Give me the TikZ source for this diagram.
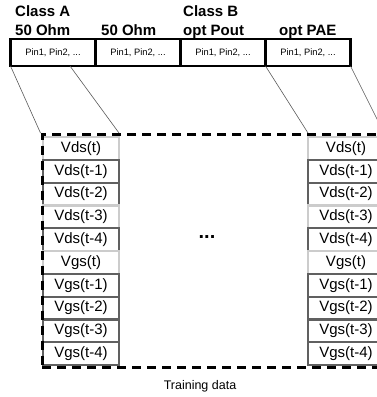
\documentclass[tikz,border=0pt]{standalone}
\usepackage{fontspec}
\setmainfont{Liberation Sans}
\usetikzlibrary{fit}

\begin{document}
\begin{tikzpicture}[x=1pt,y=1pt,yscale=-1,xscale=1,
    pinbox/.style={draw=black,line width=2.5pt,fill=white,minimum width=85pt,minimum height=27pt,inner sep=0pt,outer sep=0pt,font=\fontsize{9.3}{10}\selectfont},
    headtext/.style={anchor=base west,inner sep=0pt,font=\fontsize{15}{18}\selectfont\bfseries},
    cell/.style={draw=gray!80!black,line width=2.2pt,fill=white,minimum width=76pt,minimum height=22.8pt,inner sep=0pt,outer sep=0pt,font=\fontsize{15}{18}\selectfont},
    lt/.style={draw=gray!40},
    dk/.style={draw=gray!75!black},
    link/.style={draw=gray!70!black,line width=0.6pt},
    frame/.style={draw=black,line width=3pt,dash pattern=on 9pt off 6pt,inner xsep=1pt,inner ysep=2.5pt}]
\useasboundingbox (0,0) rectangle (377,397);
%Text Nodes: headers
\node [headtext] (classA) at (15,16) {Class A};
\node [headtext] (ohmA) at (15,35) {50 Ohm};
\node [headtext] (ohmB) at (101,35) {50 Ohm};
\node [headtext] (classB) at (183,16) {Class B};
\node [headtext] (pout) at (183,35) {opt Pout};
\node [headtext] (pae) at (279,35) {opt PAE};
%Shape: Rectangles (pin lists)
\node [pinbox] (pinA) at (53,52.5) {Pin1, Pin2, ...};
\node [pinbox] (pinB) at (138,52.5) {Pin1, Pin2, ...};
\node [pinbox] (pinC) at (223,52.5) {Pin1, Pin2, ...};
\node [pinbox] (pinD) at (308,52.5) {Pin1, Pin2, ...};
%Shape: Rectangles (training columns)
\foreach \lbl/\sty [count=\i] in {Vds(t)/lt,Vds(t-1)/dk,Vds(t-2)/dk,Vds(t-3)/lt,Vds(t-4)/dk,Vgs(t)/lt,Vgs(t-1)/dk,Vgs(t-2)/dk,Vgs(t-3)/dk,Vgs(t-4)/dk}
{
  \node [cell,\sty] (L\i) at (81,125.6+22.8*\i) {\lbl};
  \node [cell,\sty] (R\i) at (346,125.6+22.8*\i) {\lbl};
}
%Shape: Dashed frame
\node [frame,fit=(L1)(R10)] (frame) {};
%Text Nodes
\node [anchor=base,inner sep=0pt,font=\fontsize{20}{20}\selectfont\bfseries] (dots) at (207,238) {...};
\node [anchor=base,inner sep=0pt,font=\fontsize{12.5}{14}\selectfont] (train) at (200,389) {Training data};
%Straight Lines
\coordinate (pinAcut) at (70,66);
\draw [link] (pinA.south west) -- (frame.north west);
\draw [link] (pinAcut) -- (L1.north east |- frame.north);
\draw [link] (pinD.south west) -- (R1.north west |- frame.north);
\draw [link] (pinD.south east) -- (R1.north east |- frame.north);
\end{tikzpicture}
\end{document}
